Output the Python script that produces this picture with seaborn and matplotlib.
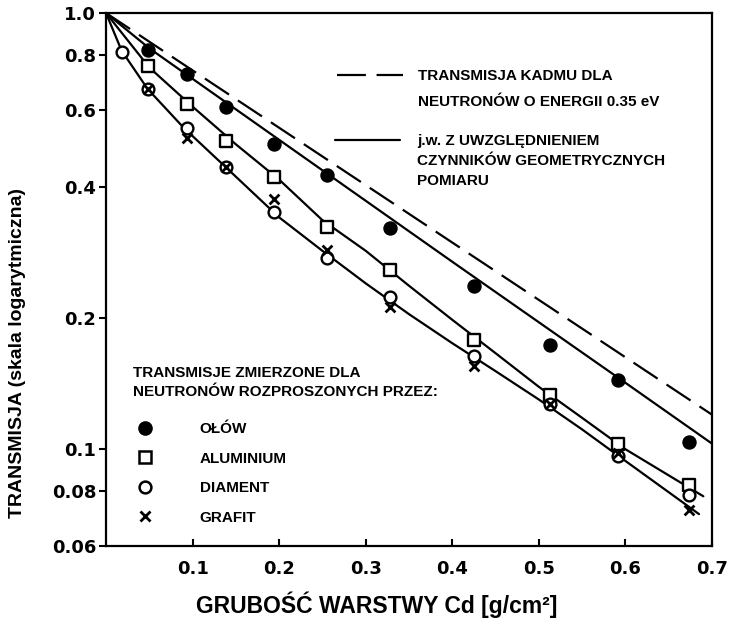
import numpy as np
import pandas as pd
import matplotlib
matplotlib.use("Agg")
import matplotlib.pyplot as plt
import seaborn as sns
from matplotlib.lines import Line2D
from matplotlib.ticker import FixedLocator, NullLocator, FixedFormatter

# ---------------- data ----------------
thickness = [0.048, 0.093, 0.139, 0.194, 0.255, 0.328, 0.425, 0.513, 0.591, 0.674]
olow = [0.822, 0.724, 0.608, 0.502, 0.425, 0.322, 0.237, 0.173, 0.144, 0.104]
aluminium = [0.755, 0.618, 0.508, 0.420, 0.324, 0.257, 0.178, 0.133, 0.103, 0.0827]
diament_x = [0.018, 0.048, 0.093, 0.139, 0.194, 0.255, 0.328, 0.425, 0.513, 0.591, 0.674]
diament = [0.816, 0.668, 0.544, 0.443, 0.349, 0.275, 0.223, 0.164, 0.127, 0.0964, 0.0786]
grafit = [0.668, 0.518, 0.443, 0.374, 0.286, 0.212, 0.155, 0.127, 0.098, 0.0724]

# cadmium transmission (dashed) and geometry-corrected fit lines (solid)
cd_x = [0.0, 0.7]
cd_y = [1.0, 0.12]
fit_olow_x = [0.0, 0.05, 0.2, 0.4, 0.6, 0.7]
fit_olow_y = [1.0, 0.83, 0.512, 0.269, 0.142, 0.103]
fit_al_x = [0.0, 0.05, 0.1, 0.15, 0.2, 0.25, 0.3, 0.35, 0.4, 0.45, 0.5, 0.55, 0.6, 0.69]
fit_al_y = [1.0, 0.75, 0.61, 0.50, 0.415, 0.335, 0.285, 0.237, 0.198, 0.166, 0.139, 0.118, 0.100, 0.078]
fit_dg_x = [0.0, 0.018, 0.048, 0.09, 0.14, 0.2, 0.25, 0.3, 0.35, 0.4, 0.45, 0.5, 0.55, 0.6, 0.685]
fit_dg_y = [1.0, 0.82, 0.67, 0.545, 0.44, 0.34, 0.285, 0.24, 0.204, 0.175, 0.151, 0.13, 0.111, 0.094, 0.071]

xticks = [0.1, 0.2, 0.3, 0.4, 0.5, 0.6, 0.7]
xtick_labels = ["0.1", "0.2", "0.3", "0.4", "0.5", "0.6", "0.7"]
yticks = [0.06, 0.08, 0.1, 0.2, 0.4, 0.6, 0.8, 1.0]
ytick_labels = ["0.06", "0.08", "0.1", "0.2", "0.4", "0.6", "0.8", "1.0"]

# ---------------- style ----------------
sns.set_style("ticks")
plt.rcParams['font.family'] = ['Liberation Sans', 'DejaVu Sans']
plt.rcParams['text.color'] = 'black'
plt.rcParams['axes.labelcolor'] = 'black'
plt.rcParams['xtick.color'] = 'black'
plt.rcParams['ytick.color'] = 'black'
plt.rcParams['axes.edgecolor'] = 'black'

fig, ax = plt.subplots(figsize=(7.3, 6.21), dpi=100)
fig.subplots_adjust(left=106 / 730, right=712 / 730, top=1 - 13 / 621, bottom=1 - 546 / 621)
ax.set_yscale('log')

LW = 1.6
dash_style = (0, (13, 4.8))

sns.lineplot(x=cd_x, y=cd_y, ax=ax, color='black', lw=LW, linestyle=dash_style,
             sort=False, estimator=None)
for fx, fy in [(fit_olow_x, fit_olow_y), (fit_al_x, fit_al_y), (fit_dg_x, fit_dg_y)]:
    sns.lineplot(x=fx, y=fy, ax=ax, color='black', lw=LW, sort=False, estimator=None)

sns.scatterplot(x=thickness, y=olow, ax=ax, marker='o', color='black', edgecolor='black',
                s=88, linewidth=1, zorder=4)
sns.scatterplot(x=thickness, y=aluminium, ax=ax, marker='s', color='white', edgecolor='black',
                s=72, linewidth=1.7, zorder=4)
sns.scatterplot(x=diament_x, y=diament, ax=ax, marker='o', color='white', edgecolor='black',
                s=72, linewidth=1.7, zorder=4)
sns.scatterplot(x=thickness, y=grafit, ax=ax, marker='x', color='black',
                s=50, linewidth=2.0, zorder=5)

# ---------------- axes ----------------
ax.set_xlim(0, 0.7)
ax.set_ylim(0.06, 1.0)
ax.xaxis.set_major_locator(FixedLocator(xticks))
ax.xaxis.set_major_formatter(FixedFormatter(xtick_labels))
ax.yaxis.set_major_locator(FixedLocator(yticks))
ax.yaxis.set_major_formatter(FixedFormatter(ytick_labels))
ax.yaxis.set_minor_locator(NullLocator())
ax.xaxis.set_minor_locator(NullLocator())
ax.tick_params(axis='x', direction='in', length=5, width=1.5, pad=10, colors='black')
ax.tick_params(axis='y', direction='out', length=5, width=1.5, pad=2, colors='black')
for lab in ax.get_xticklabels() + ax.get_yticklabels():
    lab.set_fontfamily(['DejaVu Sans'])
    lab.set_fontweight('bold')
    lab.set_fontsize(13)
    lab.set_color('black')
for sp in ax.spines.values():
    sp.set_visible(True)
    sp.set_linewidth(1.6)
    sp.set_color('black')

ax.set_xlabel("GRUBOŚĆ WARSTWY Cd [g/cm²]", fontsize=16.5, fontweight='bold', color='black')
ax.xaxis.set_label_coords((377 - 106) / 606, (546 - 592) / 533)
ax.set_ylabel("TRANSMISJA (skala logarytmiczna)", fontsize=14, fontweight='bold', va='center',
              color='black')
ax.yaxis.set_label_coords((18 - 106) / 606, (546 - 353) / 533)

# ---------------- legends ----------------
FS = 11
prop = {'weight': 'bold', 'size': FS}
blank = Line2D([], [], linestyle='none')

legA = ax.legend(handles=[Line2D([], [], color='black', lw=LW, linestyle=dash_style), blank],
                 labels=['TRANSMISJA KADMU DLA', 'NEUTRONÓW O ENERGII 0.35 eV'],
                 loc='upper left', bbox_to_anchor=((337 - 106) / 606, (546 - 69) / 533),
                 frameon=False, borderpad=0, borderaxespad=0, handlelength=4.3,
                 handletextpad=1.0, labelspacing=0.81, prop=prop, labelcolor='black')
ax.add_artist(legA)

legB = ax.legend(handles=[Line2D([], [], color='black', lw=LW), blank, blank],
                 labels=['j.w. Z UWZGLĘDNIENIEM', 'CZYNNIKÓW GEOMETRYCZNYCH', 'POMIARU'],
                 loc='upper left', bbox_to_anchor=((335 - 106) / 606, (546 - 134) / 533),
                 frameon=False, borderpad=0, borderaxespad=0, handlelength=4.25,
                 handletextpad=1.1, labelspacing=0.39, prop=prop, labelcolor='black')
ax.add_artist(legB)

ax.text((133 - 106) / 606, (546 - 366) / 533,
        'TRANSMISJE ZMIERZONE DLA\nNEUTRONÓW ROZPROSZONYCH PRZEZ:',
        transform=ax.transAxes, ha='left', va='top', fontsize=FS, fontweight='bold',
        linespacing=1.45, color='black')

marker_handles = [
    Line2D([], [], linestyle='none', marker='o', markersize=9.5, color='black'),
    Line2D([], [], linestyle='none', marker='s', markersize=8.5, markerfacecolor='white',
           markeredgecolor='black', markeredgewidth=1.8),
    Line2D([], [], linestyle='none', marker='o', markersize=8.5, markerfacecolor='white',
           markeredgecolor='black', markeredgewidth=1.8),
    Line2D([], [], linestyle='none', marker='x', markersize=7.5, color='black',
           markeredgewidth=2.0),
]
legC = ax.legend(handles=marker_handles, labels=['OŁÓW', 'ALUMINIUM', 'DIAMENT', 'GRAFIT'],
                 loc='upper left', bbox_to_anchor=((133 - 106) / 606, (546 - 422) / 533),
                 frameon=False, borderpad=0, borderaxespad=0, handlelength=1.57,
                 handletextpad=2.8, labelspacing=1.02, numpoints=1, prop=prop,
                 labelcolor='black')

fig.savefig("out.png", dpi=100, facecolor='white')
